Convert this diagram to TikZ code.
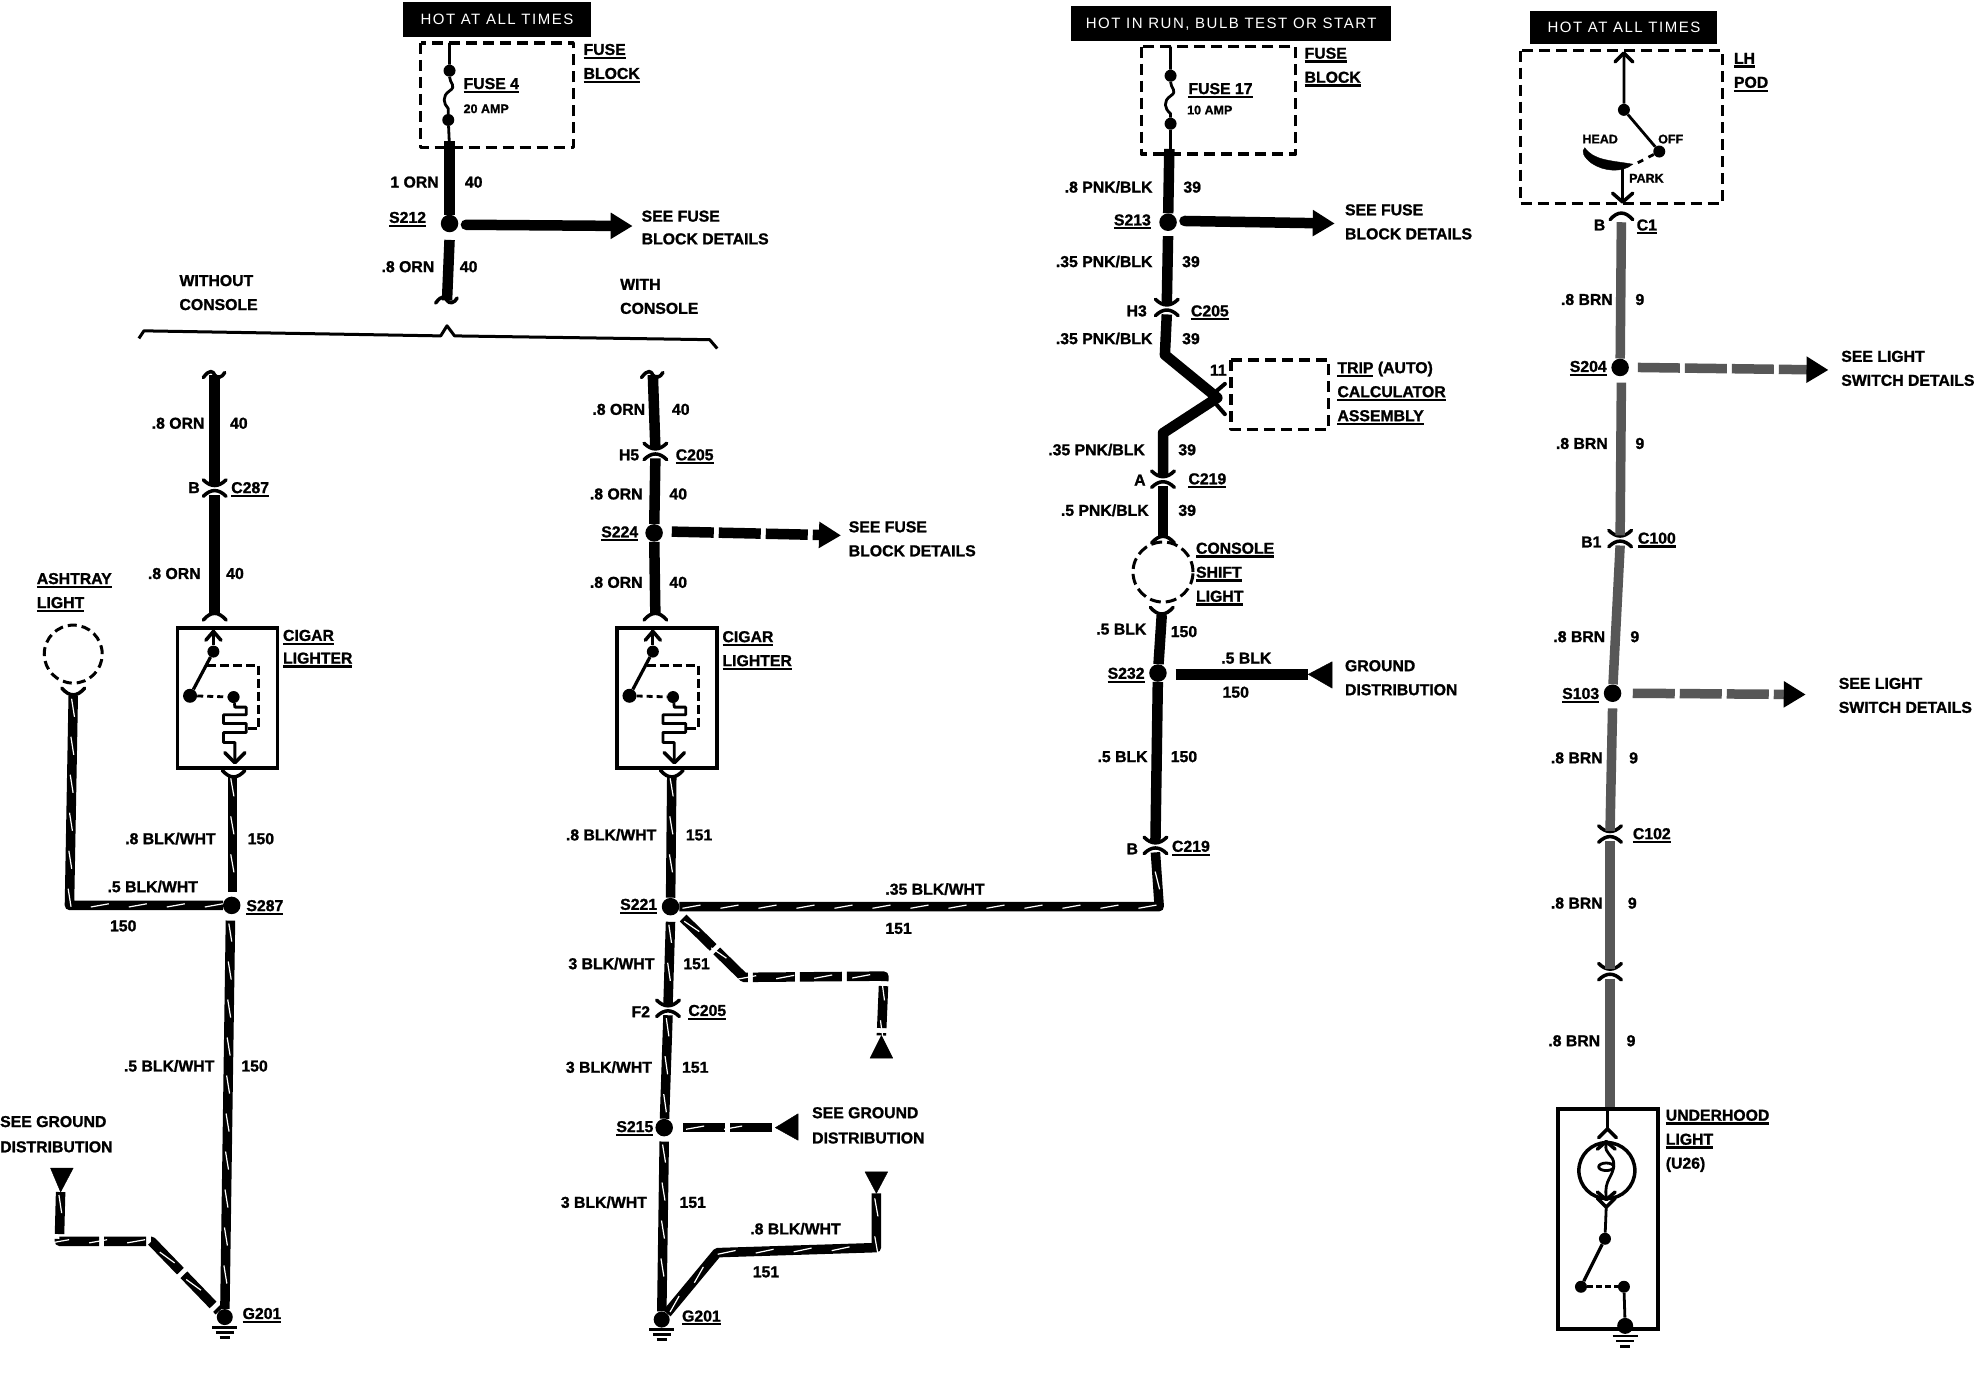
\documentclass[tikz,border=0pt]{standalone}
\usepackage{fontspec}
\setmainfont{Liberation Sans}[BoldFeatures={FakeBold=1.3}]
\usetikzlibrary{arrows.meta,decorations.markings}
\newcounter{lbn}
\newcommand\ul[1]{\leavevmode\vtop{\hbox{#1}\kern1.6pt\hrule height 2.2pt}}
\tikzset{
 lbl/.style={font=\fontsize{15.8}{18}\selectfont\bfseries,inner sep=0pt,anchor=base west,yshift=-5.7pt},
 small/.style={font=\fontsize{12.5}{14}\selectfont\bfseries,inner sep=0pt,anchor=base west,yshift=-4.5pt},
 hot/.style={fill=black,text=white,inner sep=0pt,font=\fontsize{15}{18}\selectfont\addfontfeatures{LetterSpace=10}},
 dbox/.style={draw=black,line width=3.5pt,dash pattern=on 11pt off 6pt,line join=round},
 sbox/.style={draw=black,line width=3.8pt,inner sep=0pt,anchor=north west},
 wire/.style={draw=black,line width=10.5pt,line join=round},
 gwire/.style={draw=black!66,line width=9.5pt,line join=round},
 swire/.style={draw=black,line width=9.5pt,line join=round,postaction={decorate},
   decoration={markings,mark=between positions 12pt and -6pt step 38pt with {\draw[white,line width=1.2pt](-9pt,-1.6pt)--(9pt,1.6pt);}}},
 dsh/.style={dash pattern=on 42pt off 5pt},
 splice/.style={circle,fill=black,inner sep=0pt,minimum size=17.5pt},
 fdot/.style={circle,fill=black,inner sep=0pt,minimum size=12pt},
 thin wire/.style={draw=black,line width=2.8pt,line join=round},
 chev/.style={draw=black,line width=3.5pt,line cap=round,line join=round},
 head/.style={-{Triangle[length=22pt,width=25pt]}},
}
\newcommand\lb[3]{\stepcounter{lbn}\node[lbl] (t\arabic{lbn}) at (#1,#2) {#3};}
\newcommand\wspl[3]{\node[splice] (#1) at (#2,#3) {};}
\newcommand\wconn[3]{\coordinate (#1) at (#2,#3);\coordinate (#1-t) at (#2,#3-4);\coordinate (#1-b) at (#2,#3+4);
 \draw[chev] (#2-9,#3-8) .. controls (#2-3,#3-2) and (#2+3,#3-2) .. (#2+9,#3-8);
 \draw[chev] (#2-9,#3+5) .. controls (#2-3,#3-1) and (#2+3,#3-1) .. (#2+9,#3+5);}
\newcommand\wcap[3]{\coordinate (#1) at (#2,#3);\draw[chev] (#2-9,#3+4) .. controls (#2-3,#3-3) and (#2+3,#3-3) .. (#2+9,#3+4);}
\newcommand\wvee[3]{\coordinate (#1) at (#2,#3);\draw[chev] (#2-9,#3-6) .. controls (#2-3,#3+1) and (#2+3,#3+1) .. (#2+9,#3-6);}
\newcommand\wsq[3]{\coordinate (#1) at (#2,#3);\draw[chev] (#2-9,#3+2) .. controls (#2-4,#3-5) and (#2-1,#3-3) .. (#2,#3) .. controls (#2+2,#3+3) and (#2+6,#3+2) .. (#2+8,#3-2);}
\newcommand\wgnd[3]{\node[circle,fill=black,inner sep=0pt,minimum size=16pt] (#1) at (#2,#3) {};
 \draw[black,line width=2.8pt] (#2-10,#3+8)--(#2+10,#3+8) (#2-7,#3+12)--(#2+7,#3+12) (#2-4,#3+16)--(#2+4,#3+16);}
\newcommand\cigar[3]{%
 \node[sbox,minimum width=100pt,minimum height=140pt] (#1box) at (#2,#3) {};
 \begin{scope}[shift={(#2,#3)}]
 \node[fdot] (#1a) at (30,20) {};
 \node[fdot,minimum size=14pt] (#1b) at (11.5,55) {};
 \node[fdot] (#1c) at (46,56) {};
 \coordinate (#1t) at (30,3);\coordinate (#1u) at (47,108);
 \draw[thin wire] (#1t)--(#1a);
 \draw[chev] (24,11)--(30,4)--(36,11);
 \draw[thin wire,line width=3.2pt] (#1a)--(#1b);
 \draw[thin wire,dash pattern=on 6pt off 4pt] (#1b)--(#1c);
 \draw[thin wire,dash pattern=on 9pt off 4pt] (25,31)--(66,31)--(66,81)--(56,81);
 \draw[thin wire] (#1c)--(47,64)--(56,64)--(56,70)--(38,70)--(38,77)--(56,77)--(56,84)--(38,84)--(38,92)--(47,92)--(#1u);
 \draw[chev] (39,100)--(47,108)--(55,100);
 \end{scope}}
\begin{document}
\begin{tikzpicture}[x=1.26276pt,y=-1.26276pt]
\useasboundingbox[fill=white] (0,0) rectangle (1568,1089.7);

% ---------- column: fuse 4
\node[hot,minimum width=188pt,minimum height=35pt] (hot1) at (393.5,15.5) {HOT AT ALL TIMES};
\draw[dbox] (333,34) rectangle (454,117);
\coordinate (f1t) at (356,34);\coordinate (f1b) at (356,117);
\node[fdot] (f1a) at (356,56) {};\node[fdot] (f1c) at (355,95) {};
\draw[thin wire] (f1t)--(f1a) .. controls (356,66) and (362,68) .. (356,72) .. controls (350,76) and (351,82) .. (355,86) -- (f1c)--(f1b);
\wspl{s212}{356}{177}
\coordinate (w212a) at (356,112);\draw[wire] (w212a)--(s212);
\coordinate (a1s) at (369,178);\coordinate (a1e) at (501,179);
\draw[wire,head,line cap=round] (a1s)--(a1e);
\wsq{q1}{354}{238}\coordinate (w212b) at (356,190);\draw[wire] (w212b)--(q1);
\lb{462}{39}{\ul{FUSE}}\lb{462}{58}{\ul{BLOCK}}
\lb{367}{66}{\ul{FUSE 4}}
\stepcounter{lbn}\node[small] (t\arabic{lbn}) at (367,86) {20 AMP};
\lb{309}{144}{1 ORN}\lb{368}{144}{40}
\lb{308}{172}{\ul{S212}}
\lb{508}{171}{SEE FUSE}\lb{508}{189}{BLOCK DETAILS}
\lb{302}{211}{.8 ORN}\lb{364}{211}{40}
\lb{142}{222}{WITHOUT}\lb{142}{241}{CONSOLE}
\lb{491}{225}{WITH}\lb{491}{244}{CONSOLE}
\draw[black,line width=3pt,line join=round] (110,268)--(114,262)--(349,266)--(354,258)--(360,266)--(562,269)--(568,276);

% ---------- left branch
\wsq{q2}{170}{297}
\wconn{c287}{170}{388}
\draw[wire] (q2)--(c287-t);
\wcap{capl}{170}{487}
\draw[wire] (c287-b)--(capl);
\cigar{cl}{139}{496}
\wvee{vl}{185}{616}
\coordinate (vl2) at (184,614);
\wspl{s287}{183.5}{717}
\draw[swire] (vl2)--(184,706);
\lb{120}{335}{.8 ORN}\lb{182}{335}{40}
\lb{149}{386}{B}\lb{183}{386}{\ul{C287}}
\lb{117}{454}{.8 ORN}\lb{179}{454}{40}
\lb{224}{503}{\ul{CIGAR}}\lb{224}{521}{\ul{LIGHTER}}
\lb{99}{664}{.8 BLK/WHT}\lb{196}{664}{150}
\lb{85}{702}{.5 BLK/WHT}\lb{87}{733}{150}
\lb{195}{717}{\ul{S287}}
\lb{98}{844}{.5 BLK/WHT}\lb{191}{844}{150}
\lb{29}{458}{\ul{ASHTRAY}}\lb{29}{477}{\ul{LIGHT}}
\node[circle,dbox,line width=3pt,dash pattern=on 9pt off 5pt,minimum size=58pt,inner sep=0pt] (ash) at (58,518) {};
\wvee{va}{58}{551}
\draw[swire] (va)--(55,717)--(s287);
\lb{0}{888}{SEE GROUND}\lb{0}{908}{DISTRIBUTION}
\wgnd{g1}{178}{1043}
\draw[swire] (s287)++(-1,12)--(g1);
\coordinate (tr1) at (48,944);
\draw[swire,dsh] (tr1)--(47,983)--(120,983)--(g1);
\draw[black,fill=black,line join=round] (tr1)--(40,925)--(58,925)--cycle;
\lb{192}{1040}{\ul{G201}}

% ---------- middle branch
\wsq{q3}{517}{297}
\wconn{c205m}{519}{359}
\draw[wire] (q3)--(c205m-t);
\wspl{s224}{518}{422}
\draw[wire] (c205m-b)--(s224);
\coordinate (a2s) at (532,421);\coordinate (a2e) at (666,424);
\draw[wire,dsh,head] (a2s)--(a2e);
\wcap{capm}{519}{487}
\draw[wire] (s224)--(capm);
\cigar{cm}{487}{496}
\wvee{vm}{532}{616}
\wspl{s221}{531}{718}
\draw[swire] (532,614)--(s221);
\lb{469}{324}{.8 ORN}\lb{532}{324}{40}
\lb{490}{360}{H5}\lb{535}{360}{\ul{C205}}
\lb{467}{391}{.8 ORN}\lb{530}{391}{40}
\lb{476}{421}{\ul{S224}}
\lb{672}{417}{SEE FUSE}\lb{672}{436}{BLOCK DETAILS}
\lb{467}{461}{.8 ORN}\lb{530}{461}{40}
\lb{572}{504}{\ul{CIGAR}}\lb{572}{523}{\ul{LIGHTER}}
\lb{448}{661}{.8 BLK/WHT}\lb{543}{661}{151}
\lb{491}{716}{\ul{S221}}
\lb{701}{704}{.35 BLK/WHT}\lb{701}{735}{151}
\lb{450}{763}{3 BLK/WHT}\lb{541}{763}{151}
\lb{500}{801}{F2}\lb{545}{800}{\ul{C205}}
\lb{448}{845}{3 BLK/WHT}\lb{540}{845}{151}
\lb{488}{892}{\ul{S215}}
\lb{643}{881}{SEE GROUND}\lb{643}{901}{DISTRIBUTION}
\lb{444}{952}{3 BLK/WHT}\lb{538}{952}{151}
\lb{594}{973}{.8 BLK/WHT}\lb{596}{1007}{151}
\lb{540}{1042}{\ul{G201}}
\wconn{c205f}{529}{800}
\wspl{s215}{526}{893}
\wgnd{g2}{524}{1045}
\draw[swire] (531,730)--(c205f-t);
\draw[swire] (c205f-b)--(s215);
\draw[swire] (526,904)--(g2);
\coordinate (b1a) at (541,727);\coordinate (b1b) at (589,774);\coordinate (b1c) at (700,773);\coordinate (b1d) at (698,820);
\draw[swire,dsh] (b1a)--(b1b)--(b1c)--(b1d);
\draw[black,fill=black,line join=round] (b1d)--(689,838)--(707,838)--cycle;
\coordinate (b2a) at (541,893);\coordinate (b2b) at (614,893);
\draw[swire,dsh] (b2a)--(b2b);
\draw[black,fill=black,line join=round] (b2b)--(632,882)--(632,903)--cycle;
\coordinate (b3b) at (568,992);\coordinate (b3c) at (694,988);\coordinate (b3d) at (694,945);
\draw[swire] (g2)--(b3b)--(b3c)--(b3d);
\draw[black,fill=black,line join=round] (b3d)--(685,928)--(703,928)--cycle;

% ---------- column: fuse 17
\node[hot,minimum width=320pt,minimum height=35pt] (hot2) at (975,19) {HOT IN RUN, BULB TEST OR START};
\draw[dbox] (904,37) rectangle (1026,122);
\coordinate (f2t) at (927,37);\coordinate (f2b) at (927,122);
\node[fdot] (f2a) at (927,60) {};\node[fdot] (f2c) at (927,98) {};
\draw[thin wire] (f2t)--(f2a) .. controls (927,70) and (933,72) .. (927,76) .. controls (921,80) and (922,86) .. (927,90) -- (f2c)--(f2b);
\wspl{s213}{925}{176}
\draw[wire] (926,118)--(s213);
\coordinate (a3s) at (938,175);\coordinate (a3e) at (1057,177);
\draw[wire,head,line cap=round] (a3s)--(a3e);
\wconn{c205r}{924}{245}
\draw[wire] (925,187)--(c205r-t);
\coordinate (k1) at (922.5,281);\coordinate (k2) at (964,315);\coordinate (k3) at (921,343);
\wconn{c219a}{921}{381}
\draw[wire] (c205r-b)--(k1)--(k2)--(k3)--(c219a-t);
\draw[chev,line width=4pt] (963,320)--(970,328) (963,310)--(970,304);
\draw[dbox] (975,285) rectangle (1052,340);
\wcap{capc}{921}{426}
\draw[wire] (c219a-b)--(capc);
\node[circle,dbox,line width=3pt,dash pattern=on 11pt off 5pt,minimum size=60pt,inner sep=0pt] (shift) at (921,453) {};
\wvee{vc}{920}{487}
\wspl{s232}{917}{533}
\draw[wire] (vc)--(s232);
\coordinate (w1s) at (931,534);\coordinate (w1e) at (1036,534);
\draw[wire] (w1s)--(w1e);
\draw[black,fill=black,line join=round] (w1e)--(1055,524)--(1055,545)--cycle;
\wconn{c219b}{915}{671}
\draw[wire] (s232)--(c219b-t);
\draw[swire] (s221)--(918,718)--(c219b-b);
\lb{1033}{42}{\ul{FUSE}}\lb{1033}{61}{\ul{BLOCK}}
\lb{941}{70}{\ul{FUSE 17}}
\stepcounter{lbn}\node[small] (t\arabic{lbn}) at (940,87) {10 AMP};
\lb{843}{148}{.8 PNK/BLK}\lb{937}{148}{39}
\lb{882}{174}{\ul{S213}}
\lb{1065}{166}{SEE FUSE}\lb{1065}{185}{BLOCK DETAILS}
\lb{836}{207}{.35 PNK/BLK}\lb{936}{207}{39}
\lb{892}{246}{H3}\lb{943}{246}{\ul{C205}}
\lb{836}{268}{.35 PNK/BLK}\lb{936}{268}{39}
\lb{958}{293}{11}
\lb{1059}{291}{\ul{TRIP} (AUTO)}\lb{1059}{310}{\ul{CALCULATOR}}\lb{1059}{329}{\ul{ASSEMBLY}}
\lb{830}{356}{.35 PNK/BLK}\lb{933}{356}{39}
\lb{898}{380}{A}\lb{941}{379}{\ul{C219}}
\lb{840}{404}{.5 PNK/BLK}\lb{933}{404}{39}
\lb{947}{434}{\ul{CONSOLE}}\lb{947}{453}{\ul{SHIFT}}\lb{947}{472}{\ul{LIGHT}}
\lb{868}{498}{.5 BLK}\lb{927}{500}{150}
\lb{877}{533}{\ul{S232}}
\lb{967}{521}{.5 BLK}\lb{968}{548}{150}
\lb{1065}{527}{GROUND}\lb{1065}{546}{DISTRIBUTION}
\lb{869}{599}{.5 BLK}\lb{927}{599}{150}
\lb{892}{672}{B}\lb{928}{670}{\ul{C219}}

% ---------- column: LH pod
\node[hot,minimum width=187pt,minimum height=33pt] (hot3) at (1286,21.5) {HOT AT ALL TIMES};
\draw[dbox] (1204,40) rectangle (1364,161);
\coordinate (p1) at (1286,42);
\node[fdot] (p2) at (1286,87) {};\node[fdot] (p3) at (1314,120) {};
\coordinate (p4) at (1293,131);\coordinate (p5) at (1285,134);\coordinate (p6) at (1285,160);
\draw[thin wire] (p1)--(p2)--(p3);
\draw[chev] (1279,49)--(1286,42)--(1293,49);
\draw[thin wire,dash pattern=on 6pt off 6pt] (p3)--(p4);
\draw[black,fill=black] (1255,117) .. controls (1262,127) and (1275,127) .. (1293,130) .. controls (1285,137) and (1270,136) .. (1260,129) .. controls (1254,124) and (1252,120) .. (1255,117) -- cycle;
\draw[thin wire] (p5)--(p6);
\draw[chev] (1277,153)--(1285,160)--(1293,153);
\wcap{capp}{1284}{170}
\wspl{s204}{1283}{291}
\wconn{c100}{1283}{428}
\wspl{s103}{1277}{549}
\wconn{c102}{1275}{662}
\wconn{cnn}{1275}{771}
\coordinate (uh) at (1275,877);
\draw[gwire] (1284,176)--(s204);
\draw[gwire] (1284,303)--(c100-t);
\draw[gwire] (c100-b)--(s103);
\draw[gwire] (1277,561)--(c102-t);
\draw[gwire] (c102-b)--(cnn-t);
\draw[gwire] (cnn-b)--(uh);
\coordinate (a4s) at (1297,291);\coordinate (a4e) at (1448,293);
\draw[gwire,dsh,-{Triangle[length=22pt,width=25pt,black]}] (a4s)--(a4e);
\coordinate (a5s) at (1293,549);\coordinate (a5e) at (1430,550);
\draw[gwire,dsh,-{Triangle[length=22pt,width=25pt,black]}] (a5s)--(a5e);
\node[sbox,minimum width=100pt,minimum height=220pt] (uhb) at (1232,877) {};
\node[draw=black,line width=3.5pt,circle,minimum size=56pt,inner sep=0pt] (bulb) at (1272.5,927) {};
\coordinate (u1) at (1273,877);\coordinate (u2) at (1273,894);\coordinate (u3) at (1272,956);
\draw[thin wire] (u1)--(u2);
\draw[chev] (1266,901)--(1273,894)--(1280,901);
\draw[chev] (1265,910)--(1272,904)--(1279,910) (1265,944)--(1272,950)--(1279,944);
\draw[thin wire] (1272,906) .. controls (1270,914) and (1278,914) .. (1278,922) .. controls (1278,932) and (1270,934) .. (1272,948);
\draw[thin wire] (1272,924) ellipse (6 and 3);
\draw[chev] (1265,949)--(1272,956)--(1279,949);
\node[fdot] (u4) at (1271,981) {};\node[fdot] (u5) at (1252,1019) {};\node[fdot] (u6) at (1286,1019) {};
\draw[thin wire] (u3)--(u4);
\draw[thin wire,line width=3.2pt] (u4)--(u5);
\draw[thin wire,dash pattern=on 6pt off 3pt] (u5)--(u6);
\wgnd{g3}{1287}{1050}
\draw[thin wire] (u6)--(g3);
\lb{1373}{46}{\ul{LH}}\lb{1373}{65}{\ul{POD}}
\stepcounter{lbn}\node[small] (t\arabic{lbn}) at (1253,110) {HEAD};
\stepcounter{lbn}\node[small] (t\arabic{lbn}) at (1313,110) {OFF};
\stepcounter{lbn}\node[small] (t\arabic{lbn}) at (1290,141) {PARK};
\lb{1262}{178}{B}\lb{1296}{178}{\ul{C1}}
\lb{1236}{237}{.8 BRN}\lb{1295}{237}{9}
\lb{1243}{290}{\ul{S204}}
\lb{1458}{282}{SEE LIGHT}\lb{1458}{301}{SWITCH DETAILS}
\lb{1232}{351}{.8 BRN}\lb{1295}{351}{9}
\lb{1252}{429}{B1}\lb{1297}{426}{\ul{C100}}
\lb{1230}{504}{.8 BRN}\lb{1291}{504}{9}
\lb{1237}{549}{\ul{S103}}
\lb{1456}{541}{SEE LIGHT}\lb{1456}{560}{SWITCH DETAILS}
\lb{1228}{600}{.8 BRN}\lb{1290}{600}{9}
\lb{1293}{660}{\ul{C102}}
\lb{1228}{715}{.8 BRN}\lb{1289}{715}{9}
\lb{1226}{824}{.8 BRN}\lb{1288}{824}{9}
\lb{1319}{883}{\ul{UNDERHOOD}}\lb{1319}{902}{\ul{LIGHT}}\lb{1319}{921}{(U26)}
\end{tikzpicture}
\end{document}
